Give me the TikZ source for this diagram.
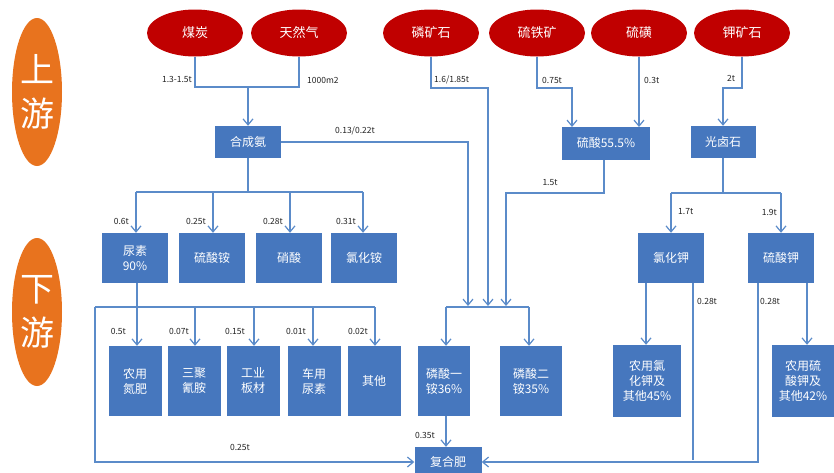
\documentclass[tikz,border=0pt]{standalone}
\usepackage{fontspec}
\setmainfont{Noto Sans CJK SC}
\usetikzlibrary{arrows.meta,shapes.geometric}
\definecolor{boxblue}{HTML}{4677BE}
\definecolor{lineblue}{HTML}{5B8BC9}
\definecolor{rawred}{HTML}{C00000}
\definecolor{sideorange}{HTML}{E8731E}
\definecolor{lbl}{HTML}{222222}
\tikzset{
  proc/.style={rectangle,fill=boxblue,text=white,font=\fontsize{12}{15}\selectfont,align=center,inner sep=0pt},
  raw/.style={ellipse,fill=rawred,text=white,font=\fontsize{13}{15}\selectfont,minimum width=96pt,minimum height=47pt,inner sep=0pt},
  side/.style={ellipse,fill=sideorange,text=white,font=\fontsize{34}{44}\selectfont,minimum width=50pt,minimum height=148pt,inner sep=0pt,align=center},
  flow/.style={draw=lineblue,line width=1.3pt},
  arr/.style={flow,-{Straight Barb[length=6pt,width=10pt,line width=1.2pt]}},
  qty/.style={font=\fontsize{8.5}{10}\selectfont,text=lbl,inner sep=1pt}
}
\begin{document}
\begin{tikzpicture}[x=1pt,y=-1pt]
\useasboundingbox (0,0) rectangle (834,472);
% side labels
\node[side] (up) at (37,92) {上\\游};
\node[side] (down) at (37,312) {下\\游};
% raw materials
\node[raw] (coal) at (195,33) {煤炭};
\node[raw] (gas) at (299,33) {天然气};
\node[raw] (phos) at (431,33) {磷矿石};
\node[raw] (pyr) at (537,33) {硫铁矿};
\node[raw] (sul) at (639,33) {硫磺};
\node[raw] (pot) at (742,33) {钾矿石};
% process boxes
\node[proc,minimum width=66pt,minimum height=32pt] (nh3) at (248,142) {合成氨};
\node[proc,minimum width=88pt,minimum height=33pt] (h2so4) at (606,143) {硫酸55.5\%};
\node[proc,minimum width=65pt,minimum height=32pt] (carn) at (723,142) {光卤石};
% row 2
\node[proc,minimum width=66pt,minimum height=50pt] (urea) at (135,258) {尿素\\90\%};
\node[proc,minimum width=66pt,minimum height=50pt] (as) at (212,258) {硫酸铵};
\node[proc,minimum width=66pt,minimum height=50pt] (an) at (289,258) {硝酸};
\node[proc,minimum width=66pt,minimum height=50pt] (ac) at (364,258) {氯化铵};
\node[proc,minimum width=66pt,minimum height=50pt] (kcl) at (671,258) {氯化钾};
\node[proc,minimum width=66pt,minimum height=50pt] (k2so4) at (781,258) {硫酸钾};
% row 3
\node[proc,minimum width=53pt,minimum height=70pt] (agn) at (135,381) {农用\\氮肥};
\node[proc,minimum width=53pt,minimum height=70pt] (mel) at (194,381) {三聚\\氰胺};
\node[proc,minimum width=53pt,minimum height=70pt] (board) at (253,381) {工业\\板材};
\node[proc,minimum width=53pt,minimum height=70pt] (def) at (314,381) {车用\\尿素};
\node[proc,minimum width=53pt,minimum height=70pt] (oth) at (374,381) {其他};
\node[proc,minimum width=52pt,minimum height=70pt] (map) at (444,381) {磷酸一\\铵36\%};
\node[proc,minimum width=62pt,minimum height=70pt] (dap) at (531,381) {磷酸二\\铵35\%};
\node[proc,minimum width=68pt,minimum height=72pt] (kclag) at (647,381) {农用氯\\化钾及\\其他45\%};
\node[proc,minimum width=62pt,minimum height=72pt] (ksag) at (803,381) {农用硫\\酸钾及\\其他42\%};
\node[proc,minimum width=67pt,minimum height=30pt] (npk) at (448,462) {复合肥};
% junction coordinates
\coordinate (j1) at (248,87);
\coordinate (j2) at (248,192);
\coordinate (j3) at (604,193);
\coordinate (j4) at (723,193);
% coal + gas -> nh3
\draw[flow] (coal.south) |- (j1) -| (gas.south);
\draw[arr] (j1) -- (nh3.north);
\node[qty,anchor=east] (l1) at (193,79) {1.3-1.5t};
\node[qty,anchor=west] (l2) at (306,80) {1000m2};
% nh3 -> row 2
\draw[flow] (nh3.south) -- (j2);
\draw[flow] (136,192) -- (363,192);
\draw[arr] (136,192) -- (urea.north -| 136,0);
\draw[arr] (213,192) -- (as.north -| 213,0);
\draw[arr] (290,192) -- (an.north -| 290,0);
\draw[arr] (363,192) -- (ac.north -| 363,0);
\node[qty,anchor=east] (l3) at (130,221) {0.6t};
\node[qty,anchor=east] (l4) at (207,221) {0.25t};
\node[qty,anchor=east] (l5) at (284,221) {0.28t};
\node[qty,anchor=east] (l6) at (357,221) {0.31t};
% nh3 -> phosphates
\draw[arr] (nh3.east) -| (468,306);
\node[qty] (l7) at (355,131) {0.13/0.22t};
% phos rock
\draw[arr] (phos.south) |- (488,88) -- (488,306);
\node[qty,anchor=west] (l8) at (433,80) {1.6/1.85t};
% sulfuric acid
\draw[arr] (pyr.south) |- (572,88) -- (572,127);
\draw[arr] (sul.south) -- (639,127);
\node[qty,anchor=west] (l9) at (541,80) {0.75t};
\node[qty,anchor=west] (l10) at (643,80) {0.3t};
\draw[arr] (h2so4.south -| j3) -- (j3) -| (506,306);
\node[qty] (l11) at (550,183) {1.5t};
% phosphate hub
\draw[flow] (446,307) -- (529,307);
\draw[arr] (446,307) -- (map.north -| 446,0);
\draw[arr] (529,307) -- (dap.north -| 529,0);
\draw[arr] (map.south -| 446,0) -- (npk.north -| 446,0);
\node[qty,anchor=east] (l12) at (436,435) {0.35t};
% potash
\draw[arr] (pot.south) |- (723,88) -- (carn.north);
\node[qty,anchor=west] (l13) at (726,78) {2t};
\draw[flow] (carn.south) -- (j4);
\draw[flow] (671,193) -- (781,193);
\draw[arr] (671,193) -- (kcl.north);
\draw[arr] (781,193) -- (k2so4.north);
\node[qty,anchor=west] (l14) at (677,212) {1.7t};
\node[qty,anchor=east] (l15) at (778,212) {1.9t};
\draw[arr] (kcl.south -| 646,0) -- (kclag.north -| 646,0);
\draw[arr] (k2so4.south -| 807,0) -- (ksag.north -| 807,0);
\draw[flow] (kcl.south -| 693,0) -- (693,460);
\draw[arr] (k2so4.south -| 758,0) |- (npk.east);
\node[qty,anchor=west] (l16) at (696,301) {0.28t};
\node[qty,anchor=west] (l17) at (759,301) {0.28t};
% urea
\draw[arr] (urea.south -| 137,0) -- (agn.north -| 137,0);
\draw[flow] (95,307) -- (375,307);
\draw[arr] (195,307) -- (mel.north -| 195,0);
\draw[arr] (254,307) -- (board.north -| 254,0);
\draw[arr] (313,307) -- (def.north -| 313,0);
\draw[arr] (375,307) -- (oth.north -| 375,0);
\draw[arr] (95,307) |- (npk.west);
\node[qty,anchor=east] (l18) at (127,331) {0.5t};
\node[qty,anchor=east] (l19) at (190,331) {0.07t};
\node[qty,anchor=east] (l20) at (246,331) {0.15t};
\node[qty,anchor=east] (l21) at (307,331) {0.01t};
\node[qty,anchor=east] (l22) at (369,331) {0.02t};
\node[qty] (l23) at (240,447) {0.25t};
\end{tikzpicture}
\end{document}
